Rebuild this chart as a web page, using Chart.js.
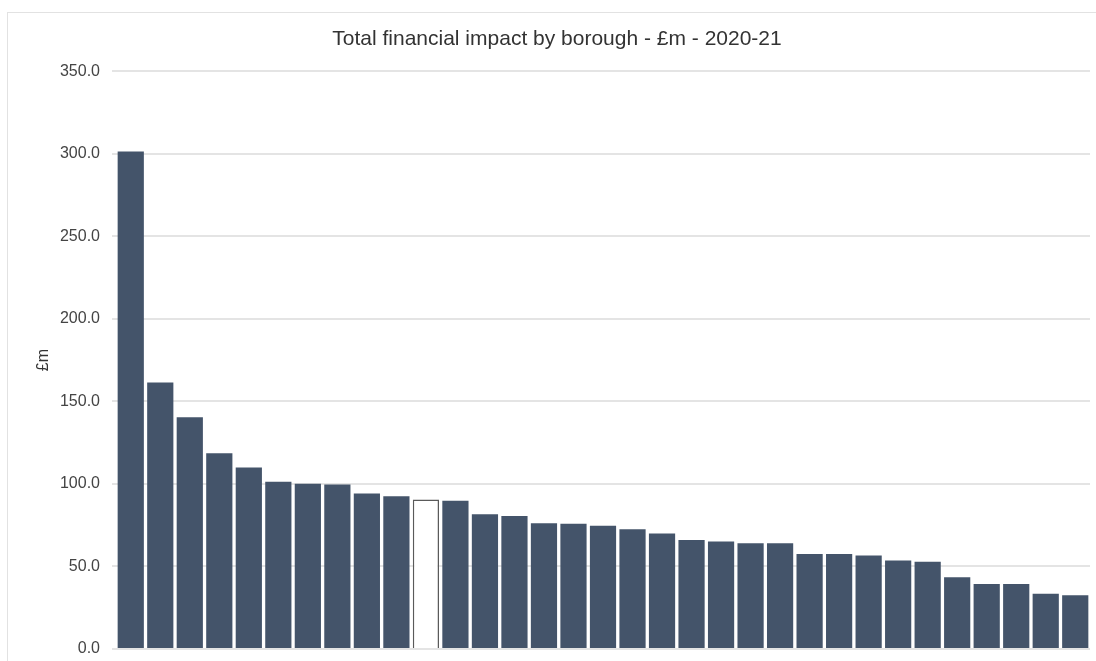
<!DOCTYPE html>
<html>
<head>
<meta charset="utf-8">
<script src="https://cdn.jsdelivr.net/npm/chart.js@4"></script>
<style>
    body { margin: 0; background: #fff; }
    #frame {
        position: absolute; left: 7px; top: 12px;
        width: 1200px; height: 700px;
        border: 1px solid #e2e2e2;
    }
    #chartCanvas { position: absolute; left: 0; top: 0; }
</style>
</head>
<body>
<div id="frame"></div>
<canvas id="chartCanvas" width="1096" height="661"></canvas>
<script>
// ============================================
// DATA
// ============================================

const boroughRank = ['1', '2', '3', '4', '5', '6', '7', '8', '9', '10', '11',
    '12', '13', '14', '15', '16', '17', '18', '19', '20', '21', '22',
    '23', '24', '25', '26', '27', '28', '29', '30', '31', '32', '33'];

const impactValues = [301.4, 161.4, 140.4, 118.6, 109.9, 101.3, 100.1, 99.7, 94.2, 92.5, 90.6,
    89.8, 81.7, 80.6, 76.2, 75.8, 74.6, 72.6, 70.0, 66.1, 65.1, 64.1,
    64.1, 57.5, 57.5, 56.7, 53.6, 52.8, 43.5, 39.3, 39.3, 33.5, 32.5];

const highlightIndex = 10;   // the hollow bar
const yTicks = [0, 50, 100, 150, 200, 250, 300, 350];

const chartTitle = 'Total financial impact by borough - £m - 2020-21';
const yAxisTitle = '£m';

// ============================================
// CHART
// ============================================

const BAR_COLOR = '#44546a';
const FONT = '"Liberation Sans", Arial, sans-serif';

const fillColors = impactValues.map(function(v, i) {
    return i === highlightIndex ? '#ffffff' : BAR_COLOR;
});
const edgeColors = impactValues.map(function(v, i) {
    return i === highlightIndex ? '#5a5a5a' : BAR_COLOR;
});
const edgeWidths = impactValues.map(function(v, i) {
    return i === highlightIndex ? 1.5 : 0;
});

const ctx = document.getElementById('chartCanvas').getContext('2d');

new Chart(ctx, {
    type: 'bar',
    data: {
        labels: boroughRank,
        datasets: [{
            label: 'Total financial impact (£m)',
            data: impactValues,
            backgroundColor: fillColors,
            borderColor: edgeColors,
            borderWidth: edgeWidths,
            barPercentage: 0.888,
            categoryPercentage: 1.0
        }]
    },
    options: {
        responsive: false,
        animation: false,
        devicePixelRatio: 1,
        layout: { padding: { left: 24, right: 6, top: 0, bottom: 12 } },
        plugins: {
            legend: { display: false },
            tooltip: { enabled: false },
            title: {
                display: true,
                text: chartTitle,
                color: '#333333',
                font: { family: FONT, size: 21, weight: 'normal' },
                padding: { top: 27, bottom: 19 }
            }
        },
        scales: {
            x: { display: false },
            y: {
                min: 0,
                max: 350,
                afterBuildTicks: function(scale) {
                    scale.ticks = yTicks.map(function(v) { return { value: v }; });
                },
                afterFit: function(scale) {
                    scale.width = 92;
                    // let the plot run down to the layout padding
                    scale.paddingBottom = 0;
                },
                border: { display: false },
                grid: { color: '#e4e4e4', lineWidth: 2, tickLength: 4 },
                ticks: {
                    color: '#444444',
                    padding: 12,
                    font: { family: FONT, size: 16 },
                    callback: function(v) { return Number(v).toFixed(1); }
                },
                title: {
                    display: true,
                    text: yAxisTitle,
                    color: '#333333',
                    font: { family: FONT, size: 16 },
                    padding: { top: 10, bottom: 0 }
                }
            }
        }
    }
});
</script>
</body>
</html>
